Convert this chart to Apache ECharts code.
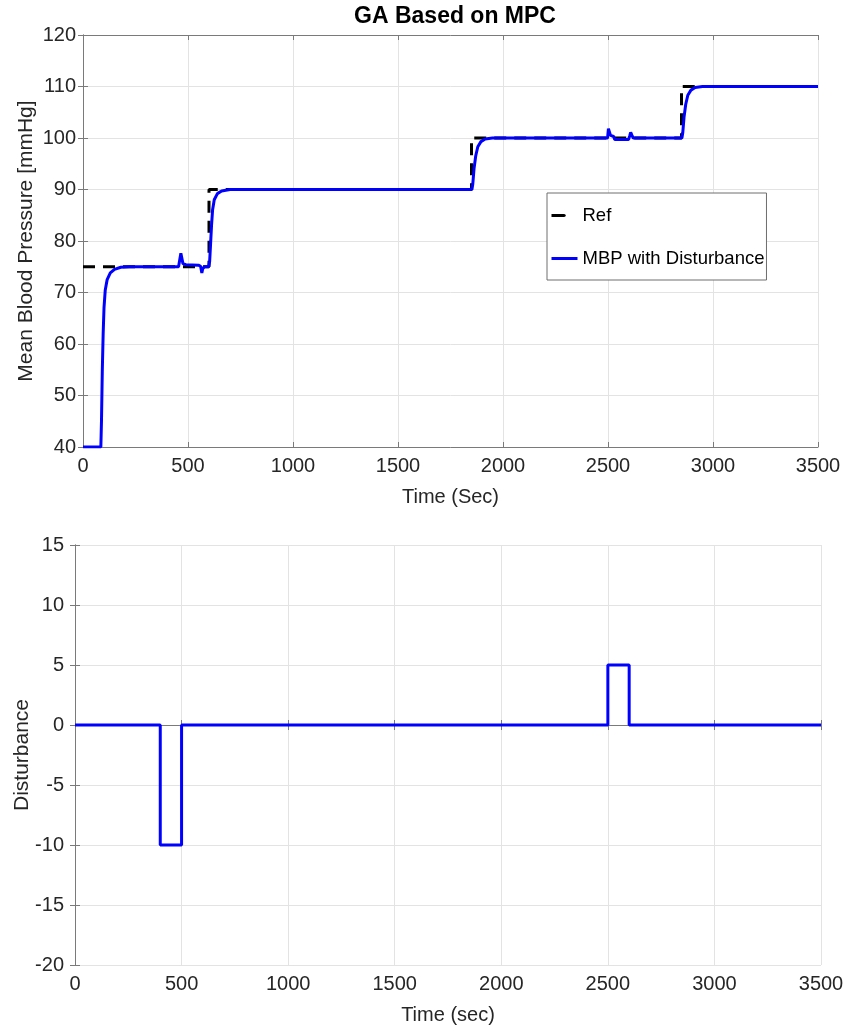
<!DOCTYPE html>
<html>
<head>
<meta charset="utf-8">
<script src="https://cdn.jsdelivr.net/npm/echarts@6/dist/echarts.min.js"></script>
<style>
html,body{margin:0;padding:0;background:#fff;}
#chart{width:859px;height:1032px;}
</style>
</head>
<body>
<div id="chart"></div>
<script>
// ---- data ----
const refTime  = [0, 600, 600, 1850, 1850, 2850, 2850, 3500];
const refValue = [75, 75, 90, 90, 100, 100, 110, 110];

const mbpTime  = [0, 85, 88, 92, 96, 100, 106, 115, 130, 150, 180, 220,
                  455, 462, 466, 472, 476, 490, 550, 560, 566, 570, 578,
                  598, 603, 607, 612, 617, 625, 640, 660, 700,
                  1852, 1856, 1862, 1870, 1880, 1895, 1915, 1950,
                  2498, 2502, 2507, 2512, 2527, 2532, 2598, 2604, 2608, 2613, 2620,
                  2852, 2856, 2862, 2870, 2880, 2895, 2915, 2950, 3500];
const mbpValue = [40, 40, 45, 55, 62, 67, 70.5, 72.5, 73.8, 74.5, 74.9, 75,
                  75, 75.2, 77.6, 77.4, 75.6, 75.4, 75.3, 75.1, 73.8, 74.6, 75,
                  75, 76, 79, 83, 86, 88, 89.2, 89.7, 90,
                  90, 91, 94, 96.5, 98.3, 99.3, 99.8, 100,
                  100, 101.8, 101.6, 100.5, 100.3, 99.7, 99.7, 100.5, 101.1, 100.6, 100,
                  100, 101, 104, 106.5, 108.3, 109.3, 109.8, 110, 110];

const distTime  = [0, 400, 400, 500, 500, 2500, 2500, 2600, 2600, 3500];
const distValue = [0, 0, -10, -10, 0, 0, 5, 5, 0, 0];

// ---- chart ----
const FONT = '"Liberation Sans", Arial, Helvetica, sans-serif';
const TXT = '#262626';
const AX = '#7a7a7a';
const GRIDC = '#e3e3e3';

function zip(a, b){ return a.map((v, i) => [v, b[i]]); }
const plain = v => String(v);

function mainX(gi, name){
  return {
    type: 'value', gridIndex: gi, min: 0, max: 3500, interval: 500,
    name: name, nameLocation: 'middle', nameGap: 40, nameMoveOverlap: false,
    nameTextStyle: {fontFamily: FONT, fontSize: 20, color: TXT},
    axisLine: {show: true, lineStyle: {color: AX, width: 1}},
    axisTick: {show: true, inside: true, length: 5, lineStyle: {color: AX}},
    axisLabel: {fontFamily: FONT, fontSize: 20, color: TXT, margin: 9, formatter: plain},
    splitLine: {show: true, lineStyle: {color: GRIDC, width: 1}}
  };
}
function topX(gi){
  return {
    type: 'value', gridIndex: gi, position: 'top', min: 0, max: 3500, interval: 500,
    axisLine: {show: true, lineStyle: {color: AX}},
    axisTick: {show: true, inside: true, length: 5, lineStyle: {color: AX}},
    axisLabel: {show: false}, splitLine: {show: false}
  };
}
function mainY(gi, min, max, interval, name, gap, margin){
  return {
    type: 'value', gridIndex: gi, min: min, max: max, interval: interval,
    name: name, nameLocation: 'middle', nameGap: gap, nameMoveOverlap: false,
    nameTextStyle: {fontFamily: FONT, fontSize: 21, color: TXT},
    axisLine: {show: true, lineStyle: {color: AX, width: 1}},
    axisTick: {show: true, inside: true, length: 5, lineStyle: {color: AX}},
    axisLabel: {fontFamily: FONT, fontSize: 20, color: TXT, margin: margin, formatter: plain},
    splitLine: {show: true, lineStyle: {color: GRIDC, width: 1}}
  };
}
function rightY(gi, min, max, interval){
  return {
    type: 'value', gridIndex: gi, position: 'right', min: min, max: max, interval: interval,
    axisLine: {show: true, lineStyle: {color: AX}},
    axisTick: {show: true, inside: true, length: 5, lineStyle: {color: AX}},
    axisLabel: {show: false}, splitLine: {show: false}
  };
}

const chart = echarts.init(document.getElementById('chart'), null, {renderer: 'canvas'});
chart.setOption({
  backgroundColor: '#ffffff',
  animation: false,
  title: {
    text: 'GA Based on MPC', left: 450, top: 0, textAlign: 'center',
    textStyle: {fontFamily: FONT, fontSize: 23, fontWeight: 'bold', color: '#000'}
  },
  legend: {
    left: 547, top: 193, orient: 'vertical',
    padding: [13, 2, 12, 3], itemGap: 24, itemWidth: 26, itemHeight: 3,
    backgroundColor: '#fff', borderColor: '#6e6e6e', borderWidth: 1,
    textStyle: {fontFamily: FONT, fontSize: 18.5, color: '#000'},
    data: [
      {name: 'Ref', lineStyle: {type: [13, 20], width: 3, color: '#000'}},
      {name: 'MBP with Disturbance', lineStyle: {width: 3, color: '#0000ff'}}
    ]
  },
  grid: [
    {left: 83, right: 41, top: 35, height: 412, show: false, outerBoundsMode: 'none', containLabel: false},
    {left: 75, right: 38, top: 545, height: 420, show: false, outerBoundsMode: 'none', containLabel: false}
  ],
  xAxis: [mainX(0, 'Time (Sec)'), topX(0), mainX(1, 'Time (sec)'), topX(1)],
  yAxis: [
    mainY(0, 40, 120, 10, 'Mean Blood Pressure [mmHg]', 46, 7), rightY(0, 40, 120, 10),
    mainY(1, -20, 15, 5, 'Disturbance', 42, 11), rightY(1, -20, 15, 5)
  ],
  series: [
    {
      name: 'Ref', type: 'line', xAxisIndex: 0, yAxisIndex: 0,
      data: zip(refTime, refValue), showSymbol: false, symbol: 'none',
      lineStyle: {color: '#000', width: 3, type: [12, 8]}, itemStyle: {color: '#000'}, z: 2
    },
    {
      name: 'MBP with Disturbance', type: 'line', xAxisIndex: 0, yAxisIndex: 0,
      data: zip(mbpTime, mbpValue), showSymbol: false, symbol: 'none', smooth: false,
      lineStyle: {color: '#0000ff', width: 3}, itemStyle: {color: '#0000ff'}, z: 3
    },
    {
      name: 'Disturbance', type: 'line', xAxisIndex: 2, yAxisIndex: 2,
      data: zip(distTime, distValue), showSymbol: false, symbol: 'none',
      lineStyle: {color: '#0000ff', width: 3}, itemStyle: {color: '#0000ff'}, z: 3
    }
  ]
});
</script>
</body>
</html>
